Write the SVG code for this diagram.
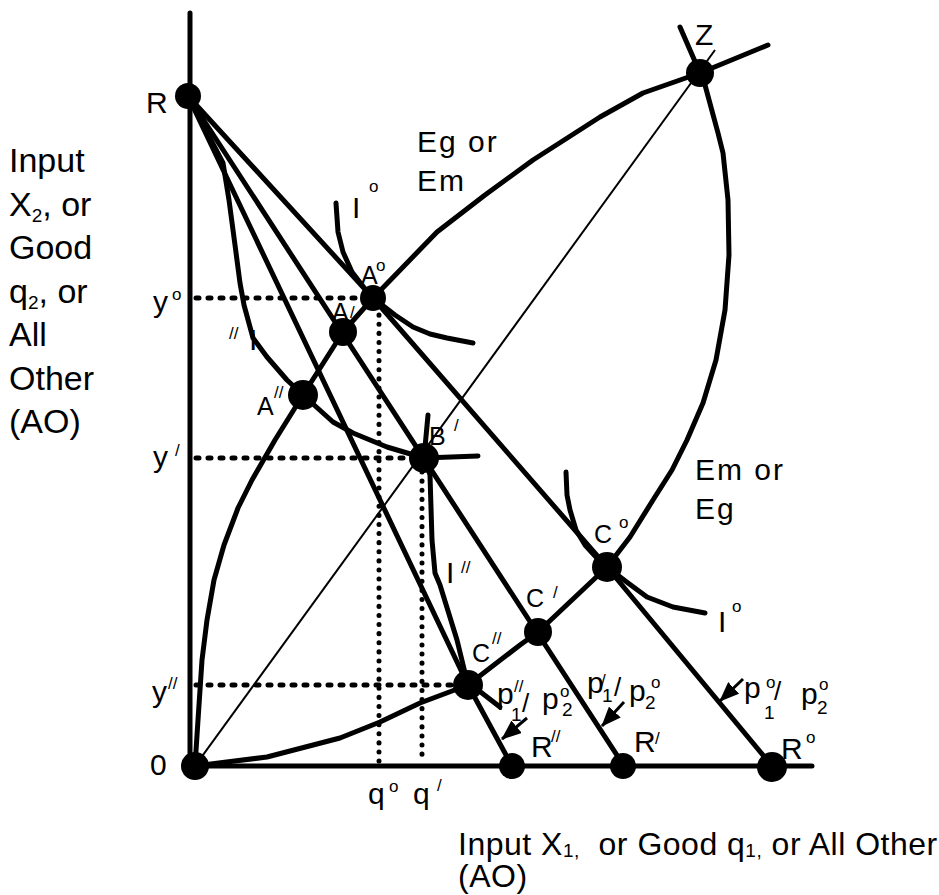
<svg xmlns="http://www.w3.org/2000/svg" width="939" height="895" viewBox="0 0 939 895">
<defs>
<style>
.ln{fill:none;stroke:#000;stroke-width:5;stroke-linejoin:round;stroke-linecap:round}
.thin{fill:none;stroke:#000;stroke-width:2}
.dh{fill:none;stroke:#000;stroke-width:5;stroke-linecap:round;stroke-dasharray:3 9}
.dv{fill:none;stroke:#000;stroke-width:5;stroke-linecap:round;stroke-dasharray:0.1 9}
.ar{fill:none;stroke:#000;stroke-width:3;marker-end:url(#ah)}
.dot{fill:#000}
text{font-family:"Liberation Sans",Arial,sans-serif;fill:#000}
.ax{font-size:34px}
.bx{font-size:32px;letter-spacing:0.5px}
.lb{font-size:30px}
.pt{font-size:25px}
.sp{font-size:17px}
.sb{font-size:19px}
.sl{font-size:26px}
.ls{letter-spacing:2px}
</style>
<marker id="ah" markerUnits="userSpaceOnUse" viewBox="0 0 20 16" refX="19" refY="8" markerWidth="20" markerHeight="16" orient="auto"><path d="M0,0 L20,8 L0,16 z" fill="#000"/></marker>
</defs>
<rect width="939" height="895" fill="#fff"/>

<g id="connectors">
  <path class="ln" d="M190,13 L190,766 L812,766"/>
  <path class="thin" d="M195,766 L715,50"/>
  <path class="ln" d="M188,96 L373,298 L607,567 L772,766"/>
  <path class="ln" d="M188,96 L624,766"/>
  <path class="ln" d="M188,96 L468,685 L512,766"/>
  <path class="ln" d="M195,766 L198,720 L202,660 L207,620 L214,580 L224,545 L238,508 L252,480 L275,440 L303,395 L343,332 L373,298 L405,265 L437,232 L485,195 L533,160 L600,117 L643,93 L700,73 L768,45"/>
  <path class="ln" d="M195,766 L267,757 L340,738 L380,722 L420,703 L468,685 L520,645 L538,632 L607,567 L630,537 L653,500 L672,470 L687,440 L703,403 L716,360 L725,310 L729,255 L728,200 L723,153 L718,133 L705,85 L700,73 L680,27"/>
  <path class="ln" d="M336,203 L338,232 L343,252 L352,272 L365,289 L373,298 L395,315 L413,327 L430,334 L447,338 L473,343"/>
  <path class="ln" d="M566,472 L567,495 L570,510 L576,530 L585,545 L596,557 L607,567 L628,583 L647,597 L673,607 L705,613"/>
  <path class="ln" d="M188,96 L223,163 L229,200 L235,245 L240,283 L244,305 L253,338 L267,357 L287,380 L303,395 L333,422 L353,433 L387,447 L424,458 L478,456"/>
  <path class="ln" d="M428,415 L424,458 L430,475 L432,540 L435,573 L440,585 L457,640 L468,685"/>
  <path class="dh" d="M196,298 L365,298"/>
  <path class="dv" d="M379,306 L379,766"/>
  <path class="dh" d="M196,458 L412,458"/>
  <path class="dv" d="M422,472 L422,756"/>
  <path class="dh" d="M196,685 L458,685"/>
  <path class="ln" d="M478,690 L500,707"/>
  <path class="ar" d="M527,718 L502,739"/>
  <path class="ar" d="M624,702 L602,726"/>
  <path class="ar" d="M743,679 L720,701"/>
</g>

<g id="node-R"><circle class="dot" cx="188" cy="96" r="13"/><text class="lb" x="146" y="113">R</text></g>
<g id="node-Z"><circle class="dot" cx="700" cy="73" r="14"/><text class="lb" x="695" y="45">Z</text></g>
<g id="node-O"><circle class="dot" cx="195" cy="766" r="14"/><text class="lb" x="150" y="775">0</text></g>
<g id="node-A0"><circle class="dot" cx="373" cy="298" r="13"/><text class="pt" x="361" y="284">A</text><text class="sp" x="376" y="271">o</text></g>
<g id="node-A1"><text class="pt" x="332" y="321">A</text><text class="sp" x="350" y="318">/</text><circle class="dot" cx="343" cy="332" r="14"/></g>
<g id="node-A2"><circle class="dot" cx="303" cy="395" r="15"/><text class="pt" x="257" y="415">A</text><text class="sp" x="274" y="398">//</text></g>
<g id="node-B1"><circle class="dot" cx="424" cy="458" r="15"/><text class="pt" x="429" y="445">B</text><text class="sp" x="454" y="431">/</text></g>
<g id="node-C0"><circle class="dot" cx="607" cy="567" r="15"/><text class="pt" x="594" y="543">C</text><text class="sp" x="619" y="528">o</text></g>
<g id="node-C1"><circle class="dot" cx="538" cy="632" r="14"/><text class="pt" x="526" y="607">C</text><text class="sp" x="553" y="598">/</text></g>
<g id="node-C2"><circle class="dot" cx="468" cy="685" r="15"/><text class="pt" x="472" y="662">C</text><text class="sp" x="492" y="644">//</text></g>
<g id="node-R2"><circle class="dot" cx="512" cy="766" r="13"/><text class="lb" x="531" y="757">R</text><text class="sp" x="551" y="742">//</text></g>
<g id="node-R1"><circle class="dot" cx="623" cy="766" r="13"/><text class="lb" x="634" y="752">R</text><text class="sp" x="655" y="744">/</text></g>
<g id="node-R0"><circle class="dot" cx="772" cy="767" r="15"/><text class="lb" x="781" y="759">R</text><text class="sp" x="806" y="743">o</text></g>

<g id="labels">
  <text class="ax" x="9" y="172">Input</text>
  <text class="ax" x="9" y="215.5">X<tspan class="sb" dy="6">2</tspan><tspan dy="-6">, or</tspan></text>
  <text class="ax" x="9" y="259">Good</text>
  <text class="ax" x="9" y="302.5">q<tspan class="sb" dy="6">2</tspan><tspan dy="-6">, or</tspan></text>
  <text class="ax" x="9" y="346">All</text>
  <text class="ax" x="9" y="389.5">Other</text>
  <text class="ax" x="9" y="433">(AO)</text>
  <text class="bx" x="458" y="855">Input X<tspan class="sb" dy="2">1,</tspan><tspan dy="-2" xml:space="preserve">  or Good q</tspan><tspan class="sb" dy="2">1,</tspan><tspan dy="-2"> or All Other</tspan></text>
  <text class="bx" x="458" y="887">(AO)</text>
  <text class="lb" x="153" y="312">y</text><text class="sp" x="172" y="300">o</text>
  <text class="lb" x="153" y="467">y</text><text class="sp" x="175" y="456">/</text>
  <text class="lb" x="152" y="702">y</text><text class="sp" x="168" y="689">//</text>
  <text class="lb" x="368" y="804">q</text><text class="sp" x="389" y="792">o</text>
  <text class="lb" x="413" y="804">q</text><text class="sp" x="437" y="791">/</text>
  <text class="lb ls" x="417" y="152">Eg or</text>
  <text class="lb ls" x="417" y="191">Em</text>
  <text class="lb ls" x="695" y="480">Em or</text>
  <text class="lb ls" x="695" y="519">Eg</text>
  <text class="lb" x="352" y="218">I</text><text class="sp" x="369" y="192">o</text>
  <text class="sp" x="229" y="339">//</text><text class="lb" x="249" y="350">I</text>
  <text class="lb" x="446" y="583">I</text><text class="sp" x="461" y="573">//</text>
  <text class="lb" x="718" y="632">I</text><text class="sp" x="732" y="612">o</text>
  <text class="lb" x="497" y="704">p</text><text class="sp" x="514" y="692">//</text><text class="sb" x="511" y="721">1</text><text class="sl" x="522" y="712">/</text>
  <text class="lb" x="542" y="709">p</text><text class="sp" x="560" y="697">o</text><text class="sb" x="562" y="716">2</text>
  <text class="lb" x="587" y="693">p</text><text class="sp" x="601" y="686">/</text><text class="sb" x="602" y="702">1</text><text class="sl" x="614" y="696">/</text>
  <text class="lb" x="629" y="701">p</text><text class="sp" x="651" y="688">o</text><text class="sb" x="645" y="709">2</text>
  <text class="lb" x="744" y="698">p</text><text class="sp" x="766" y="688">o</text><text class="sb" x="764" y="719">1</text><text class="sl" x="774" y="700">/</text>
  <text class="lb" x="801" y="704">p</text><text class="sp" x="819" y="690">o</text><text class="sb" x="817" y="714">2</text>
</g>
</svg>
